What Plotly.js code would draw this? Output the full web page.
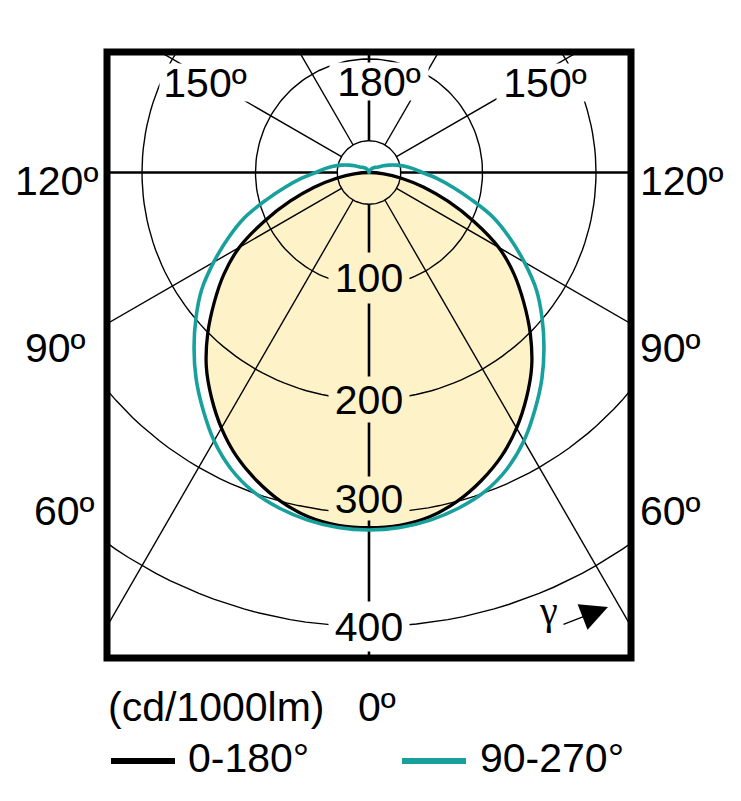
<!DOCTYPE html>
<html>
<head>
<meta charset="utf-8">
<script src="https://cdn.plot.ly/plotly-3.0.1.min.js"></script>
<style>html,body{margin:0;padding:0;background:#fff;}</style>
</head>
<body>
<div id="chart" style="width:741px;height:801px;"></div>
<script>
// ---------------- DATA ----------------
const seriesNames = ['0-180°', '90-270°'];
const gammaBlack = [0,5,10,15,20,25,30,35,40,45,50,55,60,65,70,75,80,85,90];
const intensityBlack = [313,312,308,300,289,276,260,242,223,201,178,156,132,102,74,50,29,13,0];
const gammaTeal = [0,5,10,15,20,25,30,35,40,45,50,55,60,65,70,75,80,85,90,
                   95,100,105,110,115,120,125,130,135,140,145,150,155,160,165,170,175,180];
const intensityTeal = [315,314,311,306,299,288,273,255,237,218,199,180,158,137,117,94,75,60,47,
                       39,32,25,19,14,10,8,7,6,5,4,3,2.5,2,1.5,1,0.5,0];
const radialTicks = [100, 200, 300, 400];
const radialTickLabels = ['100', '200', '300', '400'];
const centerRing = 28;
const gridAngles = [0, 30, 60, 90, 120, 150, 180];
const sideLabels = ['120º', '90º', '60º'];
const topLabels = ['150º', '180º', '150º'];
const unitLabel = '(cd/1000lm)';
const zeroLabel = '0º';
const gammaSymbol = 'γ';

// ---------------- GEOMETRY (pixels) ----------------
const W = 741, H = 801, L = 107, R = 110, T = 52, B = 143;
const PW = W - L - R, PH = H - T - B;
const CX = 369, CY = 172.5, K = 1.135;          // polar centre (px), px per cd/klm
const xRange = [(L - CX) / K, (L + PW - CX) / K];
const yRange = [-(T + PH - CY) / K, (CY - T) / K];
const px = x => (x - L) / PW;
const py = y => (T + PH - y) / PH;
const FONT = 'Liberation Sans, Arial, sans-serif';
const FS = 41;
const FILL = 'rgb(254,243,200)';
const TEAL = '#17a09c';
const rad = d => d * Math.PI / 180;

function curveXY(g, r) {
  const xs = [], ys = [];
  for (let i = g.length - 1; i >= 0; i--) { xs.push(r[i] * Math.sin(rad(g[i]))); ys.push(-r[i] * Math.cos(rad(g[i]))); }
  for (let i = 1; i < g.length; i++) { xs.push(-r[i] * Math.sin(rad(g[i]))); ys.push(-r[i] * Math.cos(rad(g[i]))); }
  return {xs, ys};
}

// grid circles
const circX = [], circY = [];
[centerRing].concat(radialTicks).forEach(r => {
  for (let a = 0; a <= 360; a += 2) { circX.push(r * Math.sin(rad(a))); circY.push(-r * Math.cos(rad(a))); }
  circX.push(null); circY.push(null);
});
// radial lines
const thinX = [], thinY = [], thickX = [], thickY = [];
gridAngles.forEach(a => {
  const sides = (a === 0 || a === 180) ? [1] : [1, -1];
  const thick = (a === 0 || a === 90 || a === 180);
  sides.forEach(s => {
    const tx = thick ? thickX : thinX, ty = thick ? thickY : thinY;
    tx.push(s * centerRing * Math.sin(rad(a)), s * 800 * Math.sin(rad(a)), null);
    ty.push(-centerRing * Math.cos(rad(a)), -800 * Math.cos(rad(a)), null);
  });
});

const blk = curveXY(gammaBlack, intensityBlack);
const tel = curveXY(gammaTeal, intensityTeal);

const traces = [
  {x: blk.xs, y: blk.ys, mode: 'lines', fill: 'toself', fillcolor: FILL,
   line: {width: 0, shape: 'spline', smoothing: 1}, hoverinfo: 'skip', showlegend: false},
  {x: circX, y: circY, mode: 'lines', line: {color: '#000', width: 1.4}, hoverinfo: 'skip', showlegend: false},
  {x: thinX, y: thinY, mode: 'lines', line: {color: '#000', width: 1.4}, hoverinfo: 'skip', showlegend: false},
  {x: thickX, y: thickY, mode: 'lines', line: {color: '#000', width: 2.6}, hoverinfo: 'skip', showlegend: false},
  {x: blk.xs, y: blk.ys, mode: 'lines', name: seriesNames[0],
   line: {color: '#000', width: 3.3, shape: 'spline', smoothing: 1}, showlegend: false},
  {x: tel.xs, y: tel.ys, mode: 'lines', name: seriesNames[1],
   line: {color: TEAL, width: 3.6, shape: 'spline', smoothing: 1}, showlegend: false}
];

const ann = [];
const txt = (x, y, text, xa, extra) => Object.assign({x: px(x), y: py(y), xref: 'paper', yref: 'paper',
  text: text, showarrow: false, xanchor: xa, yanchor: 'middle',
  font: {family: FONT, size: FS, color: '#000'}}, extra || {});
// radial tick labels
const tickShift = [8, 0, 15, 0];
const tickH = [50, 45, 43, 49];
radialTicks.forEach((r, i) => {
  ann.push({x: 0, y: -r, xref: 'x', yref: 'y', text: radialTickLabels[i], showarrow: false,
    xanchor: 'center', yanchor: 'middle',
    yshift: tickShift[i], width: 80, height: tickH[i], bgcolor: i < 3 ? FILL : '#fff',
    font: {family: FONT, size: FS, color: '#000'}, borderpad: 0});
});
// top labels
const topPos = [[205, 82, 90], [379, 81.5, 98], [545, 82, 96]];
topLabels.forEach((t, i) => {
  ann.push(txt(topPos[i][0], topPos[i][1], t, 'center',
    {width: topPos[i][2], height: 37, bgcolor: '#fff', borderpad: 0}));
});
// side labels
const sideY = [181, 348, 511];
const leftX = [56, 55, 64];
sideLabels.forEach((t, i) => {
  ann.push(txt(leftX[i], sideY[i], t, 'center'));
  ann.push(txt(638, sideY[i], t, 'left'));
});
// unit and zero labels
ann.push(txt(106, 707, unitLabel, 'left'));
ann.push(txt(356, 707, zeroLabel, 'left'));
// legend texts
ann.push(txt(186, 758, seriesNames[0], 'left'));
ann.push(txt(478, 758, seriesNames[1], 'left'));
// gamma + arrow
ann.push(txt(548, 610, gammaSymbol, 'center', {font: {family: 'Liberation Serif, DejaVu Serif, serif', size: 40, color: '#000'}}));
ann.push({x: px(608), y: py(607), xref: 'paper', yref: 'paper', text: '', showarrow: true,
  ax: -46, ay: 18, arrowhead: 2, arrowsize: 3.9, arrowwidth: 1.4, arrowcolor: '#000'});

const shapes = [
  {type: 'rect', xref: 'paper', yref: 'paper', x0: 0, x1: 1, y0: 0, y1: 1,
   line: {color: '#000', width: 7}, layer: 'above'},
  {type: 'line', xref: 'paper', yref: 'paper', x0: px(111), x1: px(175), y0: py(761), y1: py(761),
   line: {color: '#000', width: 6}},
  {type: 'line', xref: 'paper', yref: 'paper', x0: px(402), x1: px(466), y0: py(761), y1: py(761),
   line: {color: TEAL, width: 6}}
];

const layout = {
  width: W, height: H,
  margin: {l: L, r: R, t: T, b: B, pad: 0},
  paper_bgcolor: '#fff', plot_bgcolor: '#fff',
  xaxis: {range: xRange, visible: false, fixedrange: true, showgrid: false, zeroline: false},
  yaxis: {range: yRange, visible: false, fixedrange: true, showgrid: false, zeroline: false},
  showlegend: false,
  annotations: ann,
  shapes: shapes
};

Plotly.newPlot('chart', traces, layout, {displayModeBar: false, staticPlot: true});
</script>
</body>
</html>
